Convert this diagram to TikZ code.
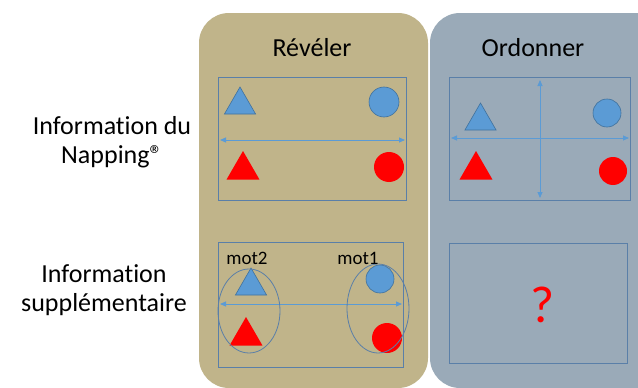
\documentclass[tikz,border=0pt]{standalone}
\usepackage{fontspec}
\setmainfont{Carlito}[Ligatures=NoCommon]
\usetikzlibrary{arrows.meta,shapes.geometric}
\definecolor{tan}{HTML}{C0B48A}
\definecolor{slate}{HTML}{9AAAB8}
\definecolor{boxline}{HTML}{5A7FA8}
\definecolor{officeblue}{HTML}{5B9BD5}
\definecolor{blueedge}{HTML}{41719C}
\tikzset{
  panel/.style={rounded corners=30pt, draw=none},
  framebox/.style={draw=boxline, line width=0.8pt},
  axis/.style={draw=officeblue, line width=0.9pt, {Triangle[length=6pt,width=5pt]}-{Triangle[length=6pt,width=5pt]}},
  bluetri/.style={regular polygon, regular polygon sides=3, fill=officeblue, draw=blueedge, line width=0.6pt, minimum size=#1, inner sep=0pt},
  redtri/.style={regular polygon, regular polygon sides=3, fill=red, draw=none, minimum size=#1, inner sep=0pt},
  bluedot/.style={circle, fill=officeblue, draw=blueedge, line width=0.6pt, minimum size=#1, inner sep=0pt},
  reddot/.style={circle, fill=red, draw=none, minimum size=#1, inner sep=0pt},
  grp/.style={ellipse, draw=boxline, line width=0.8pt, inner sep=0pt},
  title/.style={font=\fontsize{26pt}{30pt}\selectfont, text=black},
  side/.style={font=\fontsize{26pt}{29.5pt}\selectfont, text=black, align=center},
  word/.style={font=\fontsize{19pt}{22pt}\selectfont, text=black, inner sep=0pt},
}
\begin{document}
\begin{tikzpicture}[x=1pt,y=-1pt]
\useasboundingbox (0,0) rectangle (638,388);
\fill[white] (0,0) rectangle (638,388);
\begin{scope}
\clip (0,0) rectangle (638,388);
\fill[tan, panel] (199,13) rectangle (428,388);
\fill[slate, panel] (430,13) rectangle (670,388);
\end{scope}
% titles
\node[title] (t1) at (312,48) {Révéler};
\node[title] (t2) at (533,48) {Ordonner};
% side labels
\node[side] (s1) at (112,142) {Information du\\Napping®};
\node[side] (s2) at (104,290) {Information\\supplémentaire};
% top-left box
\node[framebox, minimum width=188pt, minimum height=123pt, inner sep=0pt] (b1) at (312,139) {};
\coordinate (b1l) at (220,140); \coordinate (b1r) at (405,140);
\draw[axis] (b1l) -- (b1r);
\node[bluetri=36pt] (a1) at (240,105) {};
\node[bluedot=30pt] (a2) at (384,102) {};
\node[redtri=38pt] (a3) at (243,170) {};
\node[reddot=30pt] (a4) at (389,167) {};
% top-right box
\node[framebox, minimum width=181pt, minimum height=123pt, inner sep=0pt] (b2) at (539.5,139) {};
\coordinate (b2l) at (451,138); \coordinate (b2r) at (629,138);
\coordinate (b2t) at (540,80); \coordinate (b2b) at (540,198);
\draw[axis] (b2l) -- (b2r);
\draw[axis] (b2t) -- (b2b);
\node[bluetri=36pt] (c1) at (480.5,121) {};
\node[bluedot=28pt] (c2) at (607,113) {};
\node[redtri=38pt] (c3) at (476,170) {};
\node[reddot=28pt] (c4) at (613,171) {};
% bottom-left box
\node[framebox, minimum width=185pt, minimum height=125pt, inner sep=0pt] (b3) at (310.5,304.5) {};
\coordinate (b3l) at (220,304); \coordinate (b3r) at (402,304);
\draw[axis] (b3l) -- (b3r);
\node[bluetri=36pt] (d1) at (251,286) {};
\node[redtri=38pt] (d3) at (246,336) {};
\node[bluedot=28pt] (d2) at (380,279) {};
\node[reddot=30pt] (d4) at (387,338) {};
\node[grp, minimum width=62pt, minimum height=84pt] (e1) at (249,311) {};
\node[grp, minimum width=62pt, minimum height=89pt] (e2) at (378,308.5) {};
\node[word, anchor=base] (m2) at (247,264) {mot2};
\node[word, anchor=base] (m1) at (358,264) {mot1};
% bottom-right box
\node[framebox, line width=1pt, minimum width=178pt, minimum height=120pt, inner sep=0pt] (b4) at (538,303) {};
\node[font=\fontsize{52pt}{56pt}\selectfont, text=red] (q) at (543,305) {?};
\end{tikzpicture}
\end{document}
